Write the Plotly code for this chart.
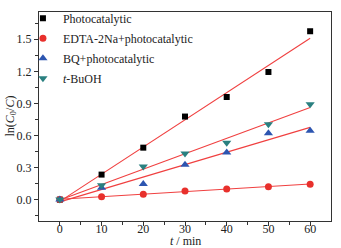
import numpy as np
import plotly.graph_objects as go

t = [0, 10, 20, 30, 40, 50, 60]
photo = [0.0, 0.234, 0.486, 0.777, 0.96, 1.194, 1.575]
edta = [0.0, 0.027, 0.05, 0.081, 0.099, 0.12, 0.144]
bq = [0.0, 0.11, 0.147, 0.327, 0.441, 0.621, 0.645]
tbuoh = [0.0, 0.135, 0.309, 0.432, 0.531, 0.705, 0.891]

names = ["Photocatalytic", "EDTA-2Na+photocatalytic", "BQ+photocatalytic", "<i>t</i>-BuOH"]
series = [photo, edta, bq, tbuoh]
symbols = ["square", "circle", "triangle-up", "triangle-down"]
colors = ["#000000", "#e8302c", "#2c55b0", "#2a8080"]
sizes = [6, 7, 8, 8]
line_color = "#f04040"

FONT = "Liberation Serif"
fig = go.Figure()

tt = np.array(t, dtype=float)
for ys in series:
    k, b = np.polyfit(tt, np.array(ys), 1)
    xs = [tt.min(), tt.max()]
    fig.add_trace(go.Scatter(x=xs, y=[k * v + b for v in xs], mode="lines",
                             line=dict(color=line_color, width=1.1),
                             showlegend=False, hoverinfo="skip"))

for i, (name, ys, sym, c, s) in enumerate(zip(names, series, symbols, colors, sizes)):
    fig.add_trace(go.Scatter(x=t, y=ys, mode="markers", name=name, legendgroup=f"g{i}",
                             marker=dict(symbol=sym, color=c, size=s, line=dict(width=0))))

axis_common = dict(showline=True, linecolor="#333333", linewidth=1.2, mirror=True,
                   ticks="outside", ticklen=4, tickwidth=1, tickcolor="#333333",
                   showgrid=False, zeroline=False, automargin=False,
                   tickfont=dict(family=FONT, size=12, color="#222222"))

fig.update_layout(
    width=341, height=248,
    margin=dict(l=39, r=10, t=4, b=27),
    paper_bgcolor="white", plot_bgcolor="white",
    font=dict(family=FONT, size=12, color="#222222"),
    showlegend=True,
    legend=dict(x=-0.055, y=1.04, xanchor="left", yanchor="top",
                bgcolor="rgba(0,0,0,0)", font=dict(family=FONT, size=12),
                itemwidth=30, tracegroupgap=1),
    xaxis=dict(range=[-5, 65], tickvals=[0, 10, 20, 30, 40, 50, 60],
               ticklabelstandoff=-8,
               minor=dict(tickvals=[5, 15, 25, 35, 45, 55], ticks="outside", ticklen=3,
                          tickcolor="#333333"),
               **axis_common),
    yaxis=dict(range=[-0.2, 1.755], tickvals=[0, 0.3, 0.6, 0.9, 1.2, 1.5],
               tickformat=".1f",
               minor=dict(tickvals=[-0.15, 0.15, 0.45, 0.75, 1.05, 1.35, 1.65], ticks="outside",
                          ticklen=3, tickcolor="#333333"),
               **axis_common),
    annotations=[
        dict(text="<i>t</i> / min", xref="paper", yref="paper", x=0.5, y=0,
             xanchor="center", yanchor="middle", yshift=-20, showarrow=False,
             font=dict(family=FONT, size=12, color="#222222")),
        dict(text="ln(<i>C</i><sub>0</sub>/<i>C</i>)", xref="paper", yref="paper", x=0, y=0.5,
             xanchor="center", yanchor="middle", xshift=-29, textangle=-90, showarrow=False,
             font=dict(family=FONT, size=12, color="#222222")),
    ],
)

fig.write_html("out.html", config={"displayModeBar": False},
               post_script="document.body.style.margin='0px';")
